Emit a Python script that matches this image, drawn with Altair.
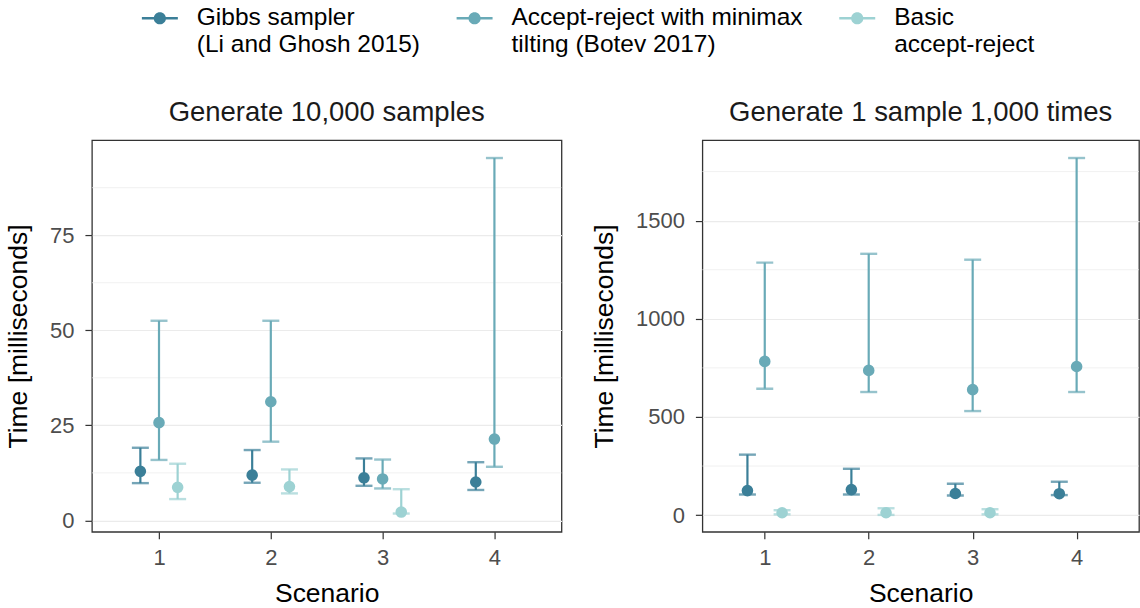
import altair as alt
import pandas as pd

FONT = "Liberation Sans"

methods = [
    "Gibbs sampler\n(Li and Ghosh 2015)",
    "Accept-reject with minimax\ntilting (Botev 2017)",
    "Basic\naccept-reject",
]
colors = ["#3B7F98", "#69AAB7", "#9DD2D3"]

scen4 = [1, 2, 3, 4]
scen3 = [1, 2, 3]

# Panel 1: Generate 10,000 samples
p1_gibbs_med = [12.9, 11.9, 11.2, 10.1]
p1_gibbs_lo = [9.8, 9.9, 9.1, 8.0]
p1_gibbs_hi = [19.1, 18.5, 16.3, 15.3]
p1_mm_med = [25.7, 31.2, 10.9, 21.4]
p1_mm_lo = [15.9, 20.7, 8.4, 14.1]
p1_mm_hi = [52.5, 52.5, 16.0, 95.3]
p1_basic_med = [8.7, 8.9, 2.2]
p1_basic_lo = [5.6, 7.1, 1.8]
p1_basic_hi = [14.9, 13.4, 8.2]

# Panel 2: Generate 1 sample 1,000 times
p2_gibbs_med = [125, 130, 110, 109]
p2_gibbs_lo = [105, 105, 100, 102]
p2_gibbs_hi = [308, 236, 160, 170]
p2_mm_med = [783, 737, 639, 757]
p2_mm_lo = [644, 627, 530, 627]
p2_mm_hi = [1286, 1331, 1301, 1819]
p2_basic_med = [12, 12, 12]
p2_basic_lo = [4, 1, 4]
p2_basic_hi = [25, 35, 30]

p1_minor = [12.5, 37.5, 62.5, 87.5]
p2_minor = [250, 750, 1250, 1750]


def frame(groups):
    rows = []
    for k, (scen, med, lo, hi) in enumerate(groups):
        for s, m, l, h in zip(scen, med, lo, hi):
            rows.append({"scenario": s, "k": k, "method": methods[k], "med": m, "lo": l, "hi": h})
    return pd.DataFrame(rows)


df1 = frame([
    (scen4, p1_gibbs_med, p1_gibbs_lo, p1_gibbs_hi),
    (scen4, p1_mm_med, p1_mm_lo, p1_mm_hi),
    (scen3, p1_basic_med, p1_basic_lo, p1_basic_hi),
])
df2 = frame([
    (scen4, p2_gibbs_med, p2_gibbs_lo, p2_gibbs_hi),
    (scen4, p2_mm_med, p2_mm_lo, p2_mm_hi),
    (scen3, p2_basic_med, p2_basic_lo, p2_basic_hi),
])

LEGEND_SYMBOL = ("M-1,-0.07L1,-0.07L1,0.07L-1,0.07Z "
                 "M0.34,0A0.34,0.34 0 1,1 -0.34,0A0.34,0.34 0 1,1 0.34,0Z")

legend = alt.Legend(
    title=None, orient="none", legendX=50, legendY=-140, direction="horizontal",
    columns=3, symbolType=LEGEND_SYMBOL, symbolSize=1296, symbolStrokeWidth=0,
    labelExpr="split(datum.label, '\\n')", labelFontSize=24.5, labelFont=FONT,
    labelColor="black", labelLimit=600, columnPadding=36, labelOffset=19,
    symbolOpacity=1,
)
color = alt.Color("method:N", scale=alt.Scale(domain=methods, range=colors), legend=legend)


def panel(df, minor_vals, title, ydomain, yticks, width):
    base = alt.Chart(df).transform_calculate(xpos="datum.scenario + (datum.k - 1) / 6")
    xscale = alt.Scale(domain=[0.4, 4.6], nice=False, zero=False)
    yscale = alt.Scale(domain=ydomain, nice=False, zero=False)
    xaxis = alt.Axis(values=scen4, format="d", grid=False, title="Scenario")
    yaxis = alt.Axis(values=yticks, format="d", grid=True, title="Time [milliseconds]")
    xenc = alt.X("xpos:Q", scale=xscale, axis=xaxis)

    minor = alt.Chart(pd.DataFrame({"v": minor_vals})).mark_rule(
        color="#EBEBEB", strokeWidth=0.7
    ).encode(
        y=alt.Y("v:Q", scale=yscale, axis=yaxis),
        x=alt.value(0), x2=alt.value(width),
    )
    rules = base.mark_rule(strokeWidth=2.2).encode(
        x=xenc,
        y=alt.Y("lo:Q", scale=yscale, axis=yaxis),
        y2="hi:Q",
        color=color,
    )
    caps = base.transform_fold(["lo", "hi"], as_=["bound", "val"]).mark_tick(
        orient="horizontal", size=17, thickness=2.4
    ).encode(
        x=xenc,
        y=alt.Y("val:Q", scale=yscale, axis=yaxis),
        color=color,
    )
    points = base.mark_circle(size=135, opacity=1).encode(
        x=xenc,
        y=alt.Y("med:Q", scale=yscale, axis=yaxis),
        color=color,
    )
    return alt.layer(minor, rules, caps, points).properties(
        width=width, height=392,
        title=alt.TitleParams(title, fontSize=27.5, fontWeight="normal", font=FONT,
                              color="#1A1A1A", offset=14, anchor="middle"),
    )


left = panel(df1, p1_minor, "Generate 10,000 samples", [-3, 100], [0, 25, 50, 75], 470)
right = panel(df2, p2_minor, "Generate 1 sample 1,000 times", [-85, 1910],
              [0, 500, 1000, 1500], 437)

chart = (
    alt.hconcat(left, right, spacing=28)
    .properties(padding={"left": 4, "top": 0, "right": 0, "bottom": 0})
    .configure_view(stroke="#333333", strokeWidth=1.3)
    .configure_axis(
        labelFont=FONT, labelFontSize=22, labelColor="#4D4D4D",
        titleFont=FONT, titleFontSize=26.5, titleFontWeight="normal", titleColor="black",
        tickColor="#333333", tickSize=7, tickWidth=1.2, domain=False,
        gridColor="#EBEBEB", gridWidth=1.2,
    )
    .configure_axisX(labelPadding=9, titlePadding=12)
    .configure_axisY(labelPadding=11, titlePadding=17)
)

chart.save("out.html", embed_options={"renderer": "svg", "actions": False})
